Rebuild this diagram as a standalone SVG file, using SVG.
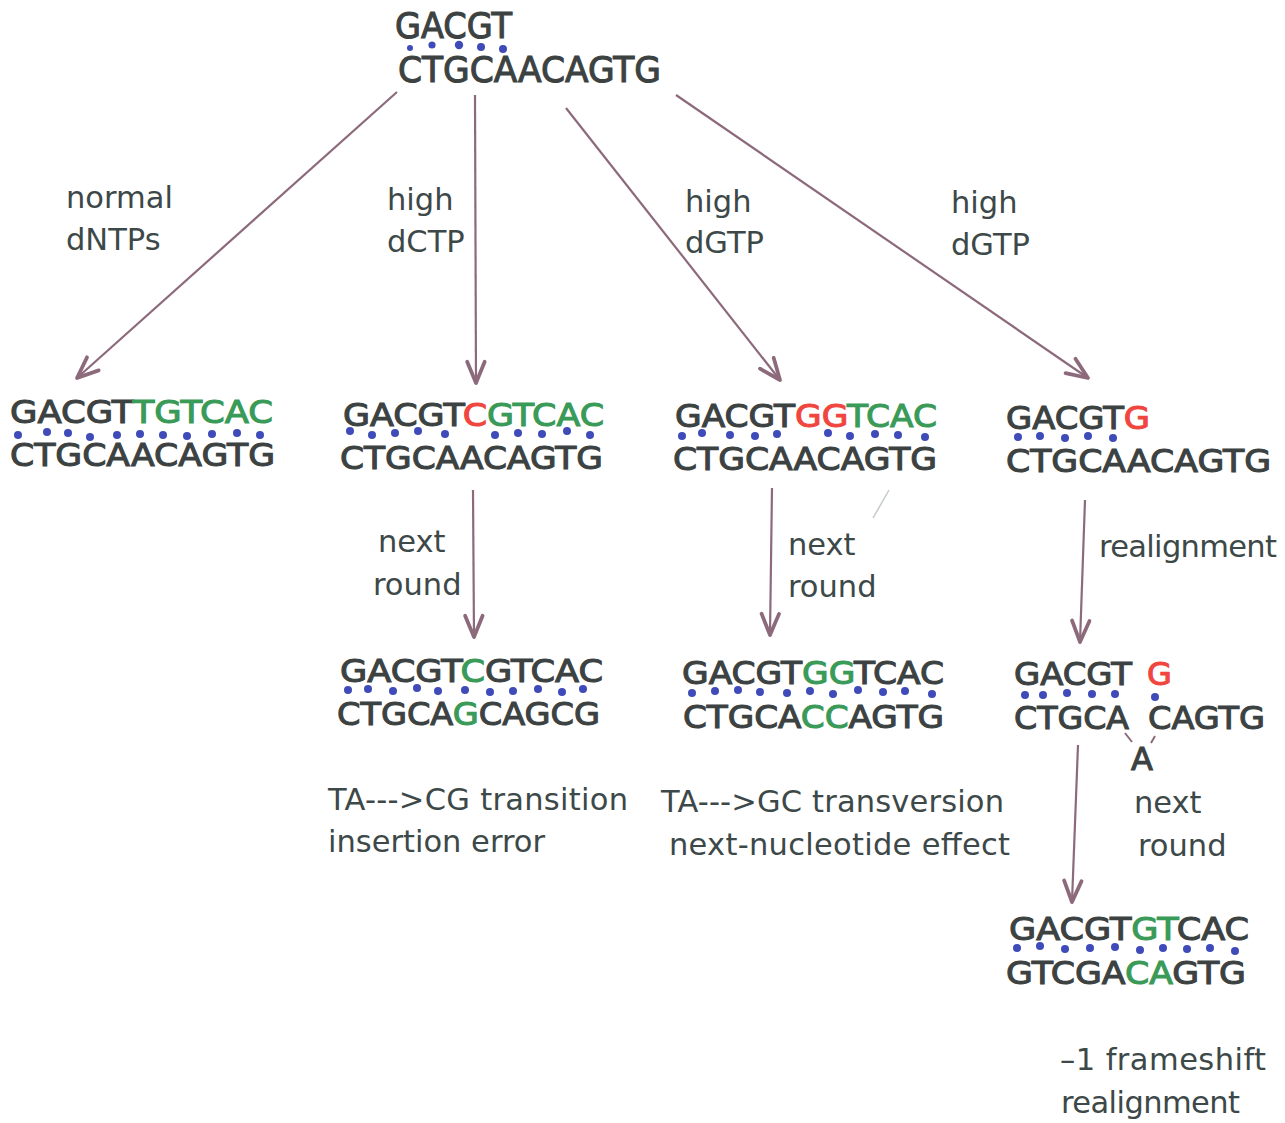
<svg xmlns="http://www.w3.org/2000/svg" width="1285" height="1123" viewBox="0 0 1285 1123">
<style>
.seq{font-family:"DejaVu Sans","Liberation Sans",sans-serif;font-size:32px;fill:#3c4242;stroke:#3c4242;stroke-width:1.1px;paint-order:stroke}
.top{font-size:35px}
.g{fill:#3a9a58;stroke:#3a9a58}
.r{fill:#f0463f;stroke:#f0463f}
.lbl{font-family:"DejaVu Sans","Liberation Sans",sans-serif;font-size:30.5px;fill:#3d4848}
.dot circle{fill:#3f4bb8}
.conn line{stroke:#8c6a7c;stroke-width:2.2;fill:none;marker-end:url(#ah)}
</style>
<defs>
<marker id="ah" markerUnits="userSpaceOnUse" markerWidth="30" markerHeight="30" viewBox="-20 -10 24 20" refX="0" refY="0" orient="auto">
<path d="M-17,-7 L0,0 L-17,7" fill="none" stroke="#8c6a7c" stroke-width="3" stroke-linecap="round" stroke-linejoin="round"/>
</marker>
</defs>
<rect width="1285" height="1123" fill="#ffffff"/>

<g id="connectors" class="conn">
<line x1="397" y1="92" x2="77" y2="378"/>
<line x1="475" y1="95" x2="476" y2="383"/>
<line x1="566" y1="108" x2="780" y2="380"/>
<line x1="676" y1="95" x2="1088" y2="378"/>
<line x1="473" y1="490" x2="474" y2="637"/>
<line x1="772" y1="488" x2="770" y2="635"/>
<line x1="1085" y1="500" x2="1080" y2="642"/>
<line x1="1078" y1="745" x2="1072" y2="902"/>
</g>
<path d="M873,518 L889,490" stroke="#9aa8a4" stroke-width="1.5" fill="none" opacity="0.6"/>

<g id="n-template">
<text class="seq top" x="395" y="38" textLength="117" lengthAdjust="spacingAndGlyphs">GACGT</text>
<text class="seq top" x="398" y="82" textLength="263" lengthAdjust="spacingAndGlyphs">CTGCAACAGTG</text>
<g class="dot"><circle cx="410" cy="48" r="3"/><circle cx="432" cy="45" r="3.6"/><circle cx="459" cy="45" r="4.2"/><circle cx="481" cy="47" r="4"/><circle cx="503" cy="49" r="4"/></g>
</g>

<g id="n-normal">
<text class="seq" x="10" y="423" textLength="263" lengthAdjust="spacingAndGlyphs">GACGT<tspan class="g">TGTCAC</tspan></text>
<text class="seq" x="10" y="466" textLength="265" lengthAdjust="spacingAndGlyphs">CTGCAACAGTG</text>
<g class="dot"><circle cx="18" cy="435" r="4"/><circle cx="47" cy="432" r="4"/><circle cx="68" cy="433" r="4"/><circle cx="90" cy="437" r="4"/><circle cx="117" cy="435" r="4"/><circle cx="140" cy="434" r="4"/><circle cx="163" cy="435" r="4"/><circle cx="187" cy="436" r="4"/><circle cx="212" cy="434" r="4"/><circle cx="237" cy="433" r="4"/><circle cx="260" cy="435" r="4"/></g>
</g>

<g id="n-dctp">
<text class="seq" x="343" y="426" textLength="261" lengthAdjust="spacingAndGlyphs">GACGT<tspan class="r">C</tspan><tspan class="g">GTCAC</tspan></text>
<text class="seq" x="340" y="469" textLength="263" lengthAdjust="spacingAndGlyphs">CTGCAACAGTG</text>
<g class="dot"><circle cx="350" cy="431" r="4"/><circle cx="372" cy="435" r="4"/><circle cx="395" cy="433" r="4"/><circle cx="418" cy="431" r="4"/><circle cx="445" cy="434" r="4"/><circle cx="495" cy="435" r="4"/><circle cx="518" cy="433" r="4"/><circle cx="542" cy="434" r="4"/><circle cx="567" cy="431" r="4"/><circle cx="590" cy="435" r="4"/></g>
</g>

<g id="n-dgtp1">
<text class="seq" x="675" y="427" textLength="262" lengthAdjust="spacingAndGlyphs">GACGT<tspan class="r">GG</tspan><tspan class="g">TCAC</tspan></text>
<text class="seq" x="673" y="470" textLength="264" lengthAdjust="spacingAndGlyphs">CTGCAACAGTG</text>
<g class="dot"><circle cx="682" cy="436" r="4"/><circle cx="702" cy="433" r="4"/><circle cx="730" cy="435" r="4"/><circle cx="755" cy="436" r="4"/><circle cx="777" cy="434" r="4"/><circle cx="828" cy="433" r="4"/><circle cx="850" cy="436" r="4"/><circle cx="875" cy="434" r="4"/><circle cx="898" cy="435" r="4"/><circle cx="925" cy="437" r="4"/></g>
</g>

<g id="n-dgtp2">
<text class="seq" x="1006" y="429" textLength="144" lengthAdjust="spacingAndGlyphs">GACGT<tspan class="r">G</tspan></text>
<text class="seq" x="1006" y="472" textLength="265" lengthAdjust="spacingAndGlyphs">CTGCAACAGTG</text>
<g class="dot"><circle cx="1018" cy="437" r="4"/><circle cx="1040" cy="436" r="4"/><circle cx="1065" cy="438" r="4"/><circle cx="1088" cy="436" r="4"/><circle cx="1113" cy="438" r="4"/></g>
</g>

<g id="n-transition">
<text class="seq" x="340" y="682" textLength="263" lengthAdjust="spacingAndGlyphs">GACGT<tspan class="g">C</tspan>GTCAC</text>
<text class="seq" x="337" y="725" textLength="263" lengthAdjust="spacingAndGlyphs">CTGCA<tspan class="g">G</tspan>CAGCG</text>
<g class="dot"><circle cx="348" cy="690" r="4"/><circle cx="368" cy="689" r="4"/><circle cx="393" cy="691" r="4"/><circle cx="417" cy="688" r="4"/><circle cx="438" cy="691" r="4"/><circle cx="465" cy="690" r="4"/><circle cx="490" cy="692" r="4"/><circle cx="513" cy="691" r="4"/><circle cx="538" cy="689" r="4"/><circle cx="562" cy="692" r="4"/><circle cx="583" cy="689" r="4"/></g>
</g>

<g id="n-transversion">
<text class="seq" x="682" y="684" textLength="262" lengthAdjust="spacingAndGlyphs">GACGT<tspan class="g">GG</tspan>TCAC</text>
<text class="seq" x="683" y="728" textLength="261" lengthAdjust="spacingAndGlyphs">CTGCA<tspan class="g">CC</tspan>AGTG</text>
<g class="dot"><circle cx="692" cy="693" r="4"/><circle cx="715" cy="691" r="4"/><circle cx="738" cy="690" r="4"/><circle cx="760" cy="692" r="4"/><circle cx="787" cy="693" r="4"/><circle cx="810" cy="691" r="4"/><circle cx="833" cy="694" r="4"/><circle cx="858" cy="690" r="4"/><circle cx="883" cy="692" r="4"/><circle cx="905" cy="691" r="4"/><circle cx="932" cy="694" r="4"/></g>
</g>

<g id="n-realigned">
<text class="seq" x="1014" y="685" textLength="118" lengthAdjust="spacingAndGlyphs">GACGT</text>
<text class="seq r" x="1147" y="685">G</text>
<text class="seq" x="1014" y="729" textLength="115" lengthAdjust="spacingAndGlyphs">CTGCA</text>
<text class="seq" x="1148" y="729" textLength="117" lengthAdjust="spacingAndGlyphs">CAGTG</text>
<text class="seq" x="1131" y="770">A</text>
<path d="M1125,733 L1132,742 M1155,736 L1151,743" stroke="#8c6a7c" stroke-width="2" fill="none"/>
<g class="dot"><circle cx="1025" cy="695" r="4"/><circle cx="1043" cy="695" r="4"/><circle cx="1067" cy="693" r="4"/><circle cx="1092" cy="694" r="4"/><circle cx="1115" cy="694" r="4"/><circle cx="1155" cy="697" r="4"/></g>
</g>

<g id="n-frameshift">
<text class="seq" x="1009" y="940" textLength="240" lengthAdjust="spacingAndGlyphs">GACGT<tspan class="g">GT</tspan>CAC</text>
<text class="seq" x="1006" y="984" textLength="240" lengthAdjust="spacingAndGlyphs">GTCGA<tspan class="g">CA</tspan>GTG</text>
<g class="dot"><circle cx="1017" cy="948" r="4"/><circle cx="1040" cy="946" r="4"/><circle cx="1065" cy="949" r="4"/><circle cx="1090" cy="948" r="4"/><circle cx="1115" cy="947" r="4"/><circle cx="1140" cy="950" r="4"/><circle cx="1163" cy="948" r="4"/><circle cx="1187" cy="949" r="4"/><circle cx="1210" cy="948" r="4"/><circle cx="1235" cy="951" r="4"/></g>
</g>

<g id="labels">
<text class="lbl" x="66" y="208">normal</text>
<text class="lbl" x="66" y="250">dNTPs</text>
<text class="lbl" x="387" y="210">high</text>
<text class="lbl" x="387" y="252">dCTP</text>
<text class="lbl" x="685" y="212">high</text>
<text class="lbl" x="685" y="253">dGTP</text>
<text class="lbl" x="951" y="213">high</text>
<text class="lbl" x="951" y="255">dGTP</text>
<text class="lbl" x="378" y="552">next</text>
<text class="lbl" x="373" y="595">round</text>
<text class="lbl" x="788" y="555">next</text>
<text class="lbl" x="788" y="597">round</text>
<text class="lbl" x="1099" y="557" textLength="178">realignment</text>
<text class="lbl" x="328" y="810" textLength="300">TA---&gt;CG transition</text>
<text class="lbl" x="328" y="852">insertion error</text>
<text class="lbl" x="661" y="812" textLength="343">TA---&gt;GC transversion</text>
<text class="lbl" x="669" y="855" textLength="341">next-nucleotide effect</text>
<text class="lbl" x="1134" y="813">next</text>
<text class="lbl" x="1138" y="856">round</text>
<text class="lbl" x="1060" y="1070" textLength="206">–1 frameshift</text>
<text class="lbl" x="1061" y="1113" textLength="179">realignment</text>
</g>
</svg>
